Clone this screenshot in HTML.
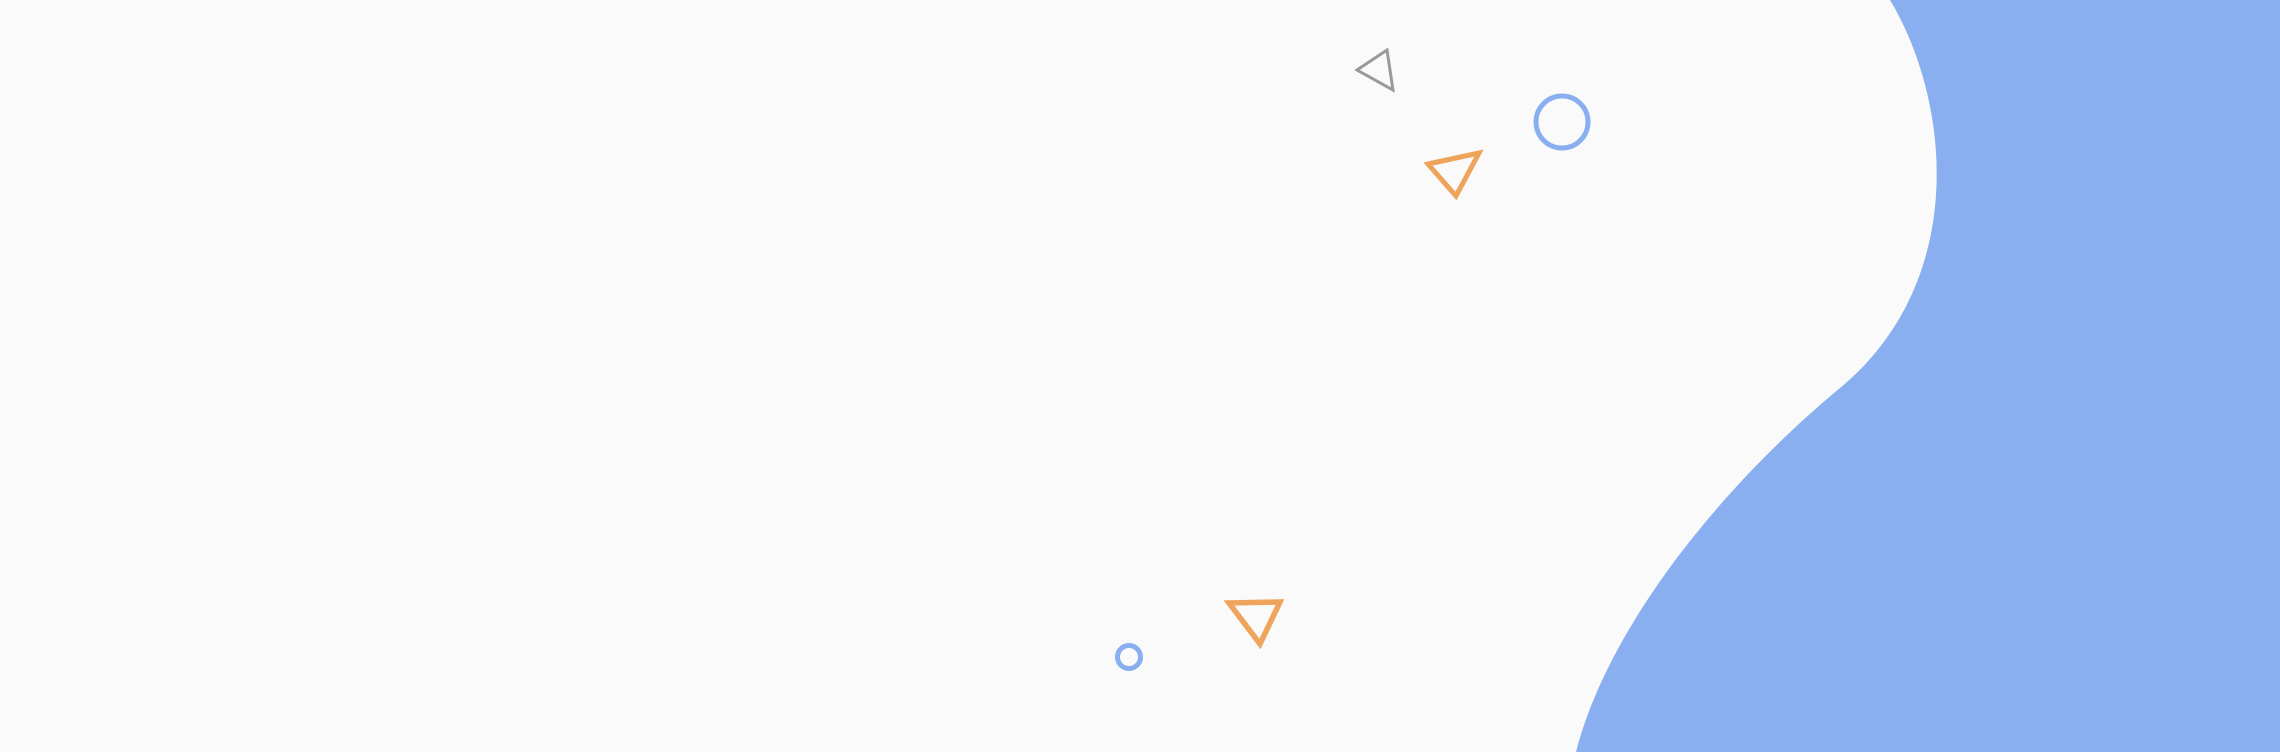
<!DOCTYPE html>
<html>
<head>
<meta charset="utf-8">
<style>
  html,body{margin:0;padding:0;background:#fafafa;}
  svg{display:block;}
</style>
</head>
<body>
<svg width="2280" height="752" viewBox="0 0 2280 752" xmlns="http://www.w3.org/2000/svg">
  <rect x="0" y="0" width="2280" height="752" fill="#fafafa"/>
  <path fill="#89aff0"
        d="M1890,0 C1950,100 1970,280 1840,388 C1730,479 1610,620 1576,752 L2280,752 L2280,0 Z"/>
  <polygon points="1357,70 1387,50 1393,90" fill="none" stroke="#999" stroke-width="3"/>
  <circle cx="1562" cy="122" r="26" fill="none" stroke="#89aff0" stroke-width="5"/>
  <polygon points="1428,164 1479,153 1456,196" fill="none" stroke="#eea45b" stroke-width="5"/>
  <circle cx="1129" cy="657" r="11.5" fill="none" stroke="#89aff0" stroke-width="5"/>
  <polygon points="1229,603 1280,602 1260,644" fill="none" stroke="#eea45b" stroke-width="5.5"/>
</svg>
</body>
</html>
